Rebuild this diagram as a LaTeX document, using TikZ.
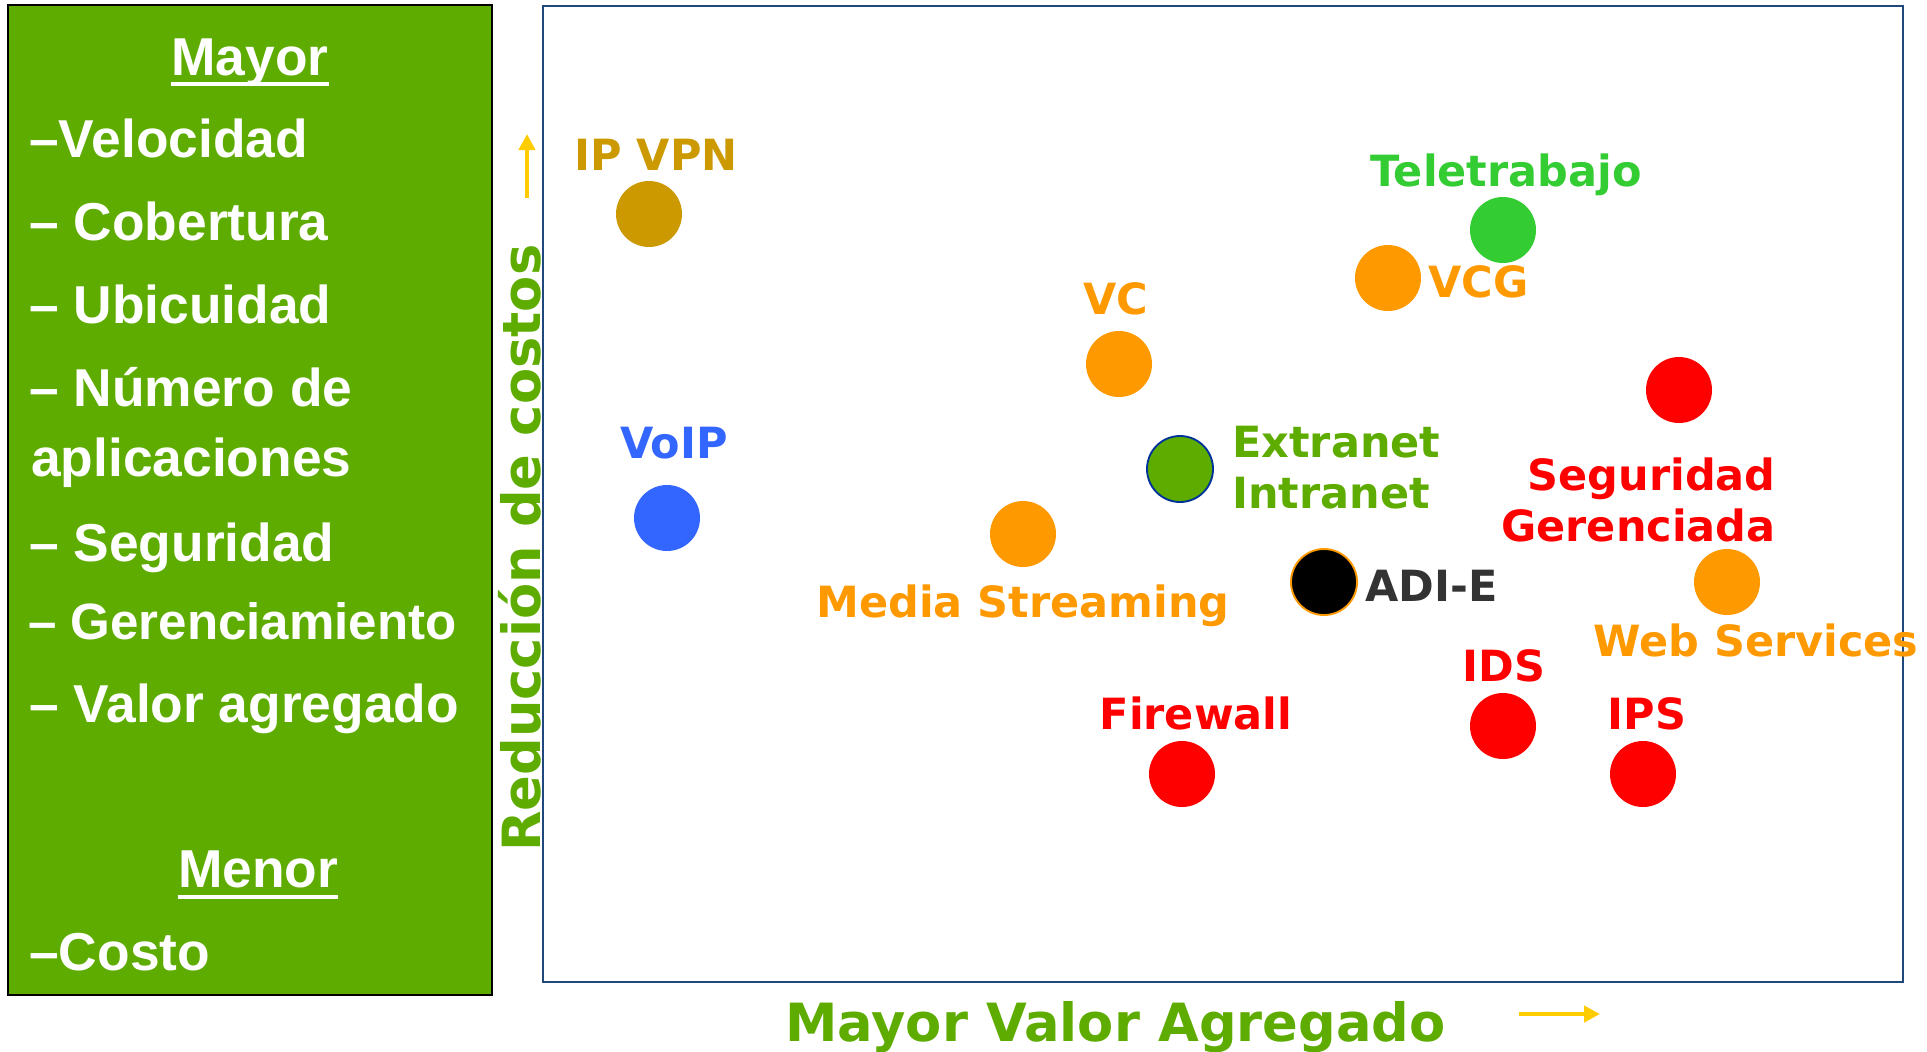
\documentclass[tikz,border=0pt]{standalone}
\usepackage{fontspec}
\setmainfont{Liberation Sans}
\newfontfamily\verd{DejaVu Sans}
\usetikzlibrary{arrows.meta}
\definecolor{pgreen}{RGB}{94,172,0}
\definecolor{tgreen}{RGB}{51,204,51}
\definecolor{orng}{RGB}{255,153,0}
\definecolor{goldc}{RGB}{204,153,0}
\definecolor{vblue}{RGB}{51,102,255}
\definecolor{navy}{RGB}{31,73,125}
\definecolor{ringblue}{RGB}{0,51,153}
\definecolor{ylw}{RGB}{255,204,0}
\definecolor{dgray}{RGB}{51,51,51}
\definecolor{redc}{RGB}{255,0,0}
\tikzset{
  lt/.style={font=\bfseries\fontsize{40}{40}\selectfont, text=white, anchor=base west, inner sep=0pt},
  lab/.style={font=\verd\bfseries\fontsize{32.25}{38}\selectfont, inner sep=0pt},
  axlab/.style={font=\verd\bfseries\fontsize{39.5}{39.5}\selectfont, text=pgreen, inner sep=0pt},
  dot/.style={circle, minimum size=49.5pt, inner sep=0pt},
  yarrow/.style={draw=ylw, line width=3.6pt, -{Triangle[width=12pt,length=12pt]}},
  uline/.style={white, line width=3pt}
}
\begin{document}
\begin{tikzpicture}[x=0.75pt,y=-0.75pt]
\useasboundingbox (0,0) rectangle (1927,1051);
\fill[white] (0,0) rectangle (1927,1051);
% left panel
\draw[black, line width=1.5pt, fill=pgreen] (8,5) rectangle (492,995);
% chart frame
\draw[navy, line width=1.3pt] (543,6) rectangle (1903,982);
% left texts
\node[lt, anchor=base] (mayor) at (250,75) {Mayor};
\draw[uline] ([yshift=-6.5pt]mayor.base west) -- ([yshift=-6.5pt]mayor.base east);
\node[lt] (l1) at (29,157) {–Velocidad};
\node[lt] (l2) at (29,240) {– Cobertura};
\node[lt] (l3) at (29,323) {– Ubicuidad};
\node[lt] (l4) at (29,406) {– Número de};
\node[lt] (l5) at (31,476) {aplicaciones};
\node[lt] (l6) at (29,561) {– Seguridad};
\node[lt, font=\bfseries\fontsize{38.3}{40}\selectfont] (l7) at (28,639) {– Gerenciamiento};
\node[lt] (l8) at (29,722) {– Valor agregado};
\node[lt, anchor=base] (menor) at (258,887) {Menor};
\draw[uline] ([yshift=-7.5pt]menor.base west) -- ([yshift=-7.5pt]menor.base east);
\node[lt] (l9) at (29,970) {–Costo};
% axis labels
\node[axlab, rotate=90, anchor=base west] (ylab) at (540,852) {Reducción de costos};
\node[axlab, anchor=base west] (xlab) at (785,1041) {Mayor Valor Agregado};
\coordinate (ya0) at (527,198);
\coordinate (ya1) at (527,134);
\draw[yarrow] (ya0) -- (ya1);
\coordinate (xa0) at (1519,1014);
\coordinate (xa1) at (1600,1014);
\draw[yarrow] (xa0) -- (xa1);
% circles
\node[dot, fill=goldc] (ipvpnC) at (649,214) {};
\node[dot, fill=vblue] (voipC) at (667,518) {};
\node[dot, fill=orng] (vcC) at (1119,364) {};
\node[dot, fill=pgreen, draw=ringblue, line width=1.4pt] (extC) at (1180,469) {};
\node[dot, fill=orng] (msC) at (1023,534) {};
\node[dot, fill=tgreen] (teleC) at (1503,230) {};
\node[dot, fill=orng] (vcgC) at (1388,278) {};
\node[dot, fill=redc] (segC) at (1679,390) {};
\node[dot, fill=black, draw=orng, line width=1.4pt] (adiC) at (1324,582) {};
\node[dot, fill=orng] (wsC) at (1727,582) {};
\node[dot, fill=redc] (idsC) at (1503,726) {};
\node[dot, fill=redc] (fwC) at (1182,774) {};
\node[dot, fill=redc] (ipsC) at (1643,774) {};
% labels
\node[lab, text=goldc, anchor=base] (ipvpnL) at (656,170) {IP VPN};
\node[lab, text=vblue, anchor=base] (voipL) at (674,458) {VoIP};
\node[lab, text=orng, anchor=base] (vcL) at (1116,314) {VC};
\node[lab, text=tgreen, anchor=base] (teleL) at (1506,186) {Teletrabajo};
\node[lab, text=orng, anchor=base west] (vcgL) at (1428,297) {VCG};
\node[lab, text=pgreen, anchor=base west] (extL) at (1232,457) {Extranet};
\node[lab, text=pgreen, anchor=base west] (intL) at (1232,508) {Intranet};
\node[lab, text=redc, anchor=base east] (segL) at (1776,490) {Seguridad};
\node[lab, text=redc, anchor=base east] (gerL) at (1776,541) {Gerenciada};
\node[lab, text=dgray, anchor=base west] (adiL) at (1365,601) {ADI-E};
\node[lab, text=orng, anchor=base west] (wsL) at (1593,656) {Web Services};
\node[lab, text=redc, anchor=base] (idsL) at (1504,681) {IDS};
\node[lab, text=redc, anchor=base] (fwL) at (1196,729) {Firewall};
\node[lab, text=redc, anchor=base] (ipsL) at (1647,729) {IPS};
\node[lab, text=orng, anchor=base] (msL) at (1023,617) {Media Streaming};
\end{tikzpicture}
\end{document}
